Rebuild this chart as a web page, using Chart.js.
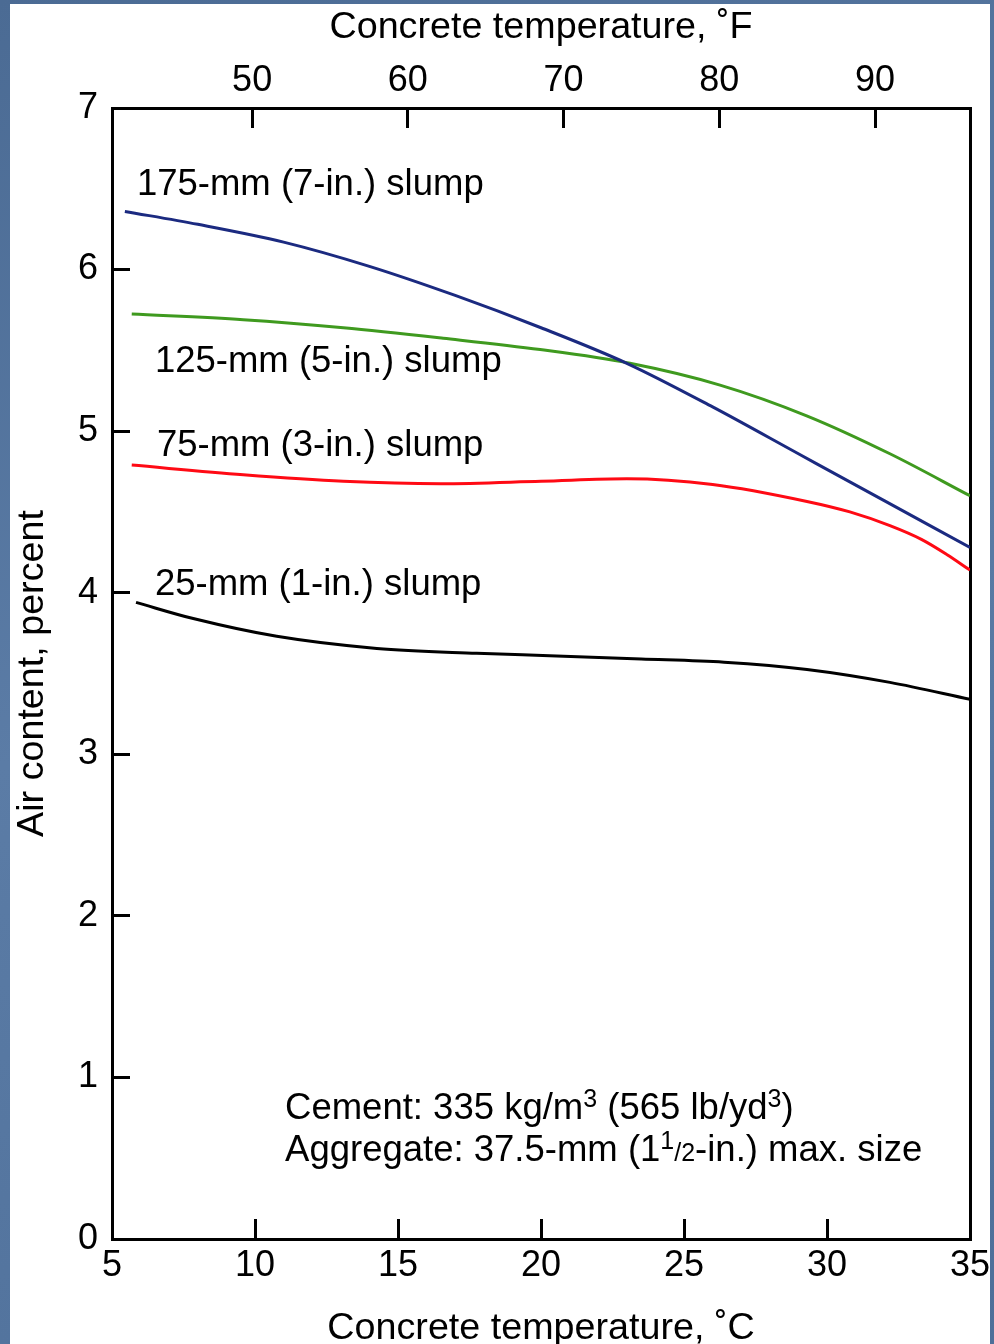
<!DOCTYPE html>
<html>
<head>
<meta charset="utf-8">
<script src="https://cdn.jsdelivr.net/npm/chart.js@4.4.1/dist/chart.umd.min.js"></script>
<style>
  html, body { margin: 0; padding: 0; }
  body { width: 994px; height: 1344px; overflow: hidden; position: relative;
         background: linear-gradient(160deg, #4b6b94 0%, #5b7ca6 45%, #4e6f99 100%); }
  #paper { position: absolute; left: 10px; top: 4px; width: 980px; height: 1340px; background: #fff; }
  #chart { position: absolute; left: 0; top: 0; }
</style>
</head>
<body>
<div id="paper"></div>
<canvas id="chart" width="994" height="1344"></canvas>
<script>
'use strict';

// temperatures in deg C and air content in percent
const slump175Temp = [5.45, 8, 11, 14, 17, 20, 23, 26, 29, 32, 35];
const slump175Air = [6.36, 6.28, 6.17, 6.02, 5.84, 5.64, 5.42, 5.15, 4.86, 4.57, 4.28];

const slump125Temp = [5.69, 9.59, 13.09, 16.58, 19.97, 23.11, 26.26, 29.29, 32.2, 35.0];
const slump125Air = [5.725, 5.69, 5.64, 5.575, 5.505, 5.42, 5.285, 5.095, 4.86, 4.60];

const slump75Temp = [5.69, 9.59, 13.09, 16.5, 20, 23, 26, 29.3, 30.8, 32.2, 33.3, 34.2, 35.0];
const slump75Air = [4.79, 4.73, 4.69, 4.675, 4.69, 4.705, 4.67, 4.565, 4.50, 4.415, 4.33, 4.235, 4.14];

const slump25Temp = [5.84, 7.84, 10.76, 14.26, 17.75, 20.3, 23.5, 26.4, 29.3, 32.2, 35.0];
const slump25Air = [3.94, 3.84, 3.73, 3.655, 3.625, 3.61, 3.59, 3.57, 3.525, 3.445, 3.34];

const curveLabels = ['175-mm (7-in.) slump', '125-mm (5-in.) slump', '75-mm (3-in.) slump', '25-mm (1-in.) slump'];

const celsiusTicks = [5, 10, 15, 20, 25, 30, 35];
const fahrenheitTicks = [50, 60, 70, 80, 90];
const airTicks = [0, 1, 2, 3, 4, 5, 6, 7];

const FONT = '"Liberation Sans", Arial, Helvetica, sans-serif';
Chart.defaults.font.family = FONT;
Chart.defaults.color = '#000';

function toPoints(xs, ys) {
    let pts = [];
    for (let i = 0; i < xs.length; i++) {
        pts.push({ x: xs[i], y: ys[i] });
    }
    return pts;
}

function makeSet(label, xs, ys, color) {
    return {
        label: label,
        data: toPoints(xs, ys),
        borderColor: color,
        borderWidth: 3,
        pointRadius: 0,
        cubicInterpolationMode: 'monotone',
        fill: false,
        xAxisID: 'x',
        yAxisID: 'y'
    };
}

function fixSize(prop, size) {
    return function (scale) {
        scale[prop] = size;
        scale.paddingLeft = 0;
        scale.paddingRight = 0;
        scale.paddingTop = 0;
        scale.paddingBottom = 0;
    };
}

function useTicks(values) {
    return function (scale) {
        scale.ticks = values.map(v => ({ value: v }));
    };
}

// draws a line of text made of runs, some of them small / raised
function drawRuns(ctx, x, y, runs) {
    for (const r of runs) {
        let size = r.small ? 25 : 36.5;
        ctx.font = size + 'px ' + FONT;
        ctx.fillText(r.t, x, y - (r.sup ? 12 : 0));
        x += ctx.measureText(r.t).width;
    }
}

const textPlugin = {
    id: 'curveText',
    afterDatasetsDraw(chart) {
        const ctx = chart.ctx;
        const xs = chart.scales.x;
        const ys = chart.scales.y;
        const spots = [[5.87, 6.46], [6.5, 5.366], [6.57, 4.846], [6.5, 3.986]];
        ctx.save();
        ctx.fillStyle = '#000';
        ctx.textAlign = 'left';
        ctx.textBaseline = 'alphabetic';
        ctx.font = '36.5px ' + FONT;
        for (let i = 0; i < curveLabels.length; i++) {
            ctx.fillText(curveLabels[i], xs.getPixelForValue(spots[i][0]), ys.getPixelForValue(spots[i][1]));
        }
        let nx = xs.getPixelForValue(11.05);
        drawRuns(ctx, nx, ys.getPixelForValue(0.743), [
            { t: 'Cement: 335 kg/m' }, { t: '3', small: true, sup: true },
            { t: ' (565 lb/yd' }, { t: '3', small: true, sup: true }, { t: ')' }
        ]);
        drawRuns(ctx, nx, ys.getPixelForValue(0.483), [
            { t: 'Aggregate: 37.5-mm (1' }, { t: '1', small: true, sup: true },
            { t: '/2', small: true }, { t: '-in.) max. size' }
        ]);
        ctx.restore();
    }
};

const tickFont = { size: 36 };
const titleFont = { size: 37.7, lineHeight: 1 };

const config = {
    type: 'line',
    data: {
        datasets: [
            makeSet(curveLabels[0], slump175Temp, slump175Air, '#1b2a80'),
            makeSet(curveLabels[1], slump125Temp, slump125Air, '#3f9a1f'),
            makeSet(curveLabels[2], slump75Temp, slump75Air, '#ff0a14'),
            makeSet(curveLabels[3], slump25Temp, slump25Air, '#000000')
        ]
    },
    options: {
        responsive: false,
        animation: false,
        layout: { padding: 0 },
        plugins: { legend: { display: false }, tooltip: { enabled: false } },
        scales: {
            x: {
                type: 'linear', position: 'bottom', min: 5, max: 35,
                afterBuildTicks: useTicks(celsiusTicks),
                afterFit: fixSize('height', 105),
                border: { display: true, width: 3, color: '#000' },
                grid: { drawOnChartArea: false, drawTicks: true, tickLength: -20, tickWidth: 3, tickColor: '#000', lineWidth: 3, color: '#000' },
                ticks: { font: tickFont, padding: 25, maxRotation: 0, autoSkip: false },
                title: { display: true, text: 'Concrete temperature, ˚C', font: titleFont, padding: { top: 0, bottom: -3 } }
            },
            x2: {
                type: 'linear', position: 'top', min: 41.0, max: 96.1,
                afterBuildTicks: useTicks(fahrenheitTicks),
                afterFit: fixSize('height', 108),
                border: { display: true, width: 3, color: '#000' },
                grid: { drawOnChartArea: false, drawTicks: true, tickLength: -20, tickWidth: 3, tickColor: '#000', lineWidth: 3, color: '#000' },
                ticks: { font: tickFont, padding: 25, maxRotation: 0, autoSkip: false },
                title: { display: true, text: 'Concrete temperature, ˚F', font: titleFont, padding: { top: 9, bottom: 0 } }
            },
            y: {
                type: 'linear', position: 'left', min: 0, max: 7,
                afterBuildTicks: useTicks(airTicks),
                afterFit: fixSize('width', 112),
                border: { display: true, width: 3, color: '#000' },
                grid: { drawOnChartArea: false, drawTicks: true, tickLength: -18, tickWidth: 3, tickColor: '#000', lineWidth: 3, color: '#000' },
                ticks: { font: tickFont, padding: 32 },
                title: { display: true, text: 'Air content, percent', font: titleFont, padding: { top: 14, bottom: 0 } }
            },
            y2: {
                type: 'linear', position: 'right', min: 0, max: 7,
                afterFit: fixSize('width', 24),
                border: { display: true, width: 3, color: '#000' },
                grid: { drawOnChartArea: false, drawTicks: false, lineWidth: 3, color: '#000' },
                ticks: { display: false }
            }
        }
    },
    plugins: [textPlugin]
};

const airChart = new Chart(document.getElementById('chart'), config);
</script>
</body>
</html>
